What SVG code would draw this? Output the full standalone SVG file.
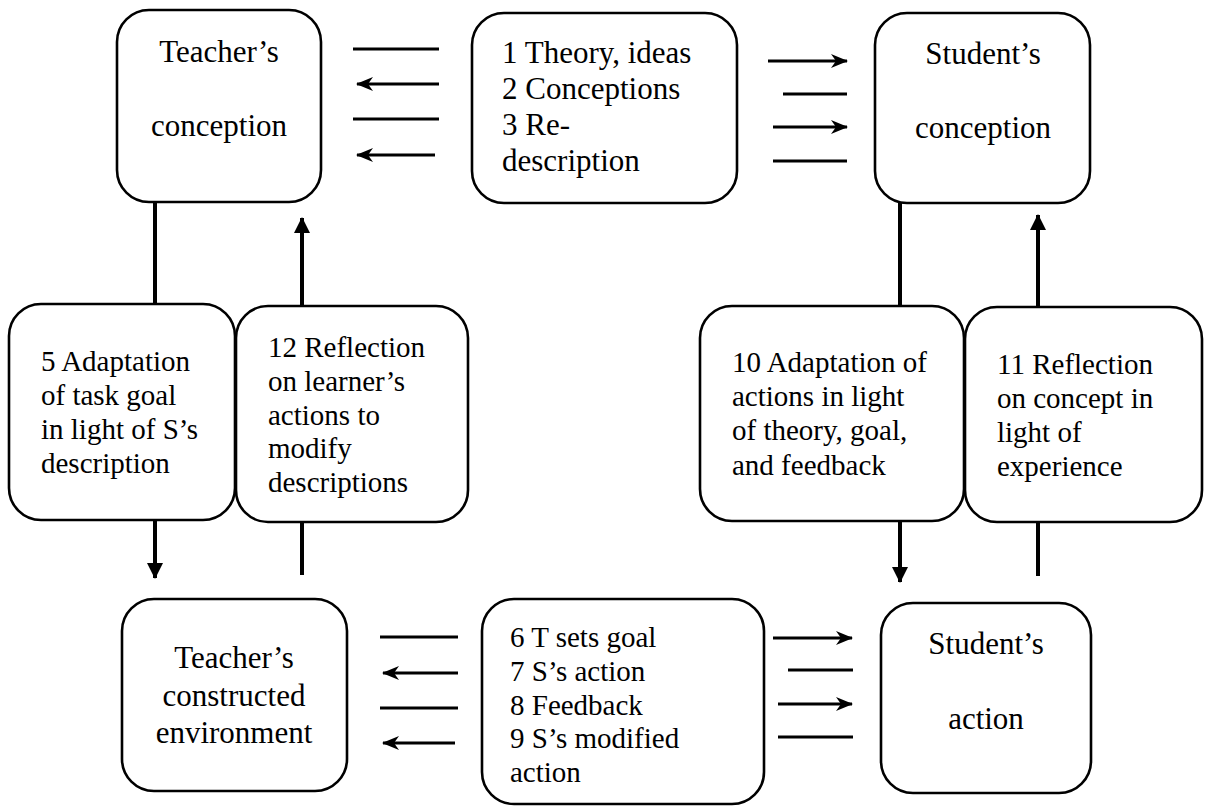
<svg xmlns="http://www.w3.org/2000/svg" width="1209" height="807" viewBox="0 0 1209 807">
<style>
.box{fill:#fff;stroke:#000;stroke-width:2.6}
text{fill:#000}
.big{font-size:31px}
.sm{font-size:29px}
.c{text-anchor:middle}
.h{stroke:#000;stroke-width:3;fill:none}
.v{stroke:#000;stroke-width:4;fill:none}
</style>
<defs>
<marker id="ah" markerUnits="userSpaceOnUse" viewBox="-18 -9 20 18" refX="0" refY="0" markerWidth="20" markerHeight="18" orient="auto">
<path d="M1,0 L-16,-7 L-11,0 L-16,7 Z" fill="#000"/>
</marker>
<marker id="av" markerUnits="userSpaceOnUse" viewBox="-18 -10 20 20" refX="0" refY="0" markerWidth="20" markerHeight="20" orient="auto">
<path d="M1,0 L-15,-8 L-15,8 Z" fill="#000"/>
</marker>
</defs>

<g id="connectors">
<line class="h" x1="353" y1="49" x2="439" y2="49"/>
<line class="h" x1="439" y1="84" x2="357" y2="84" marker-end="url(#ah)"/>
<line class="h" x1="353" y1="119" x2="439" y2="119"/>
<line class="h" x1="435" y1="155" x2="357" y2="155" marker-end="url(#ah)"/>

<line class="h" x1="768" y1="61" x2="847" y2="61" marker-end="url(#ah)"/>
<line class="h" x1="783" y1="94" x2="847" y2="94"/>
<line class="h" x1="773" y1="127" x2="847" y2="127" marker-end="url(#ah)"/>
<line class="h" x1="773" y1="161" x2="847" y2="161"/>

<line class="h" x1="380" y1="637" x2="458" y2="637"/>
<line class="h" x1="458" y1="673" x2="383" y2="673" marker-end="url(#ah)"/>
<line class="h" x1="380" y1="708" x2="458" y2="708"/>
<line class="h" x1="455" y1="743" x2="383" y2="743" marker-end="url(#ah)"/>

<line class="h" x1="773" y1="638" x2="852" y2="638" marker-end="url(#ah)"/>
<line class="h" x1="788" y1="670" x2="853" y2="670"/>
<line class="h" x1="778" y1="704" x2="852" y2="704" marker-end="url(#ah)"/>
<line class="h" x1="778" y1="737" x2="853" y2="737"/>

<line class="v" x1="155" y1="202" x2="155" y2="304"/>
<line class="v" x1="302" y1="307" x2="302" y2="218" marker-end="url(#av)"/>
<line class="v" x1="155" y1="520" x2="155" y2="578" marker-end="url(#av)"/>
<line class="v" x1="302" y1="522" x2="302" y2="575"/>

<line class="v" x1="900" y1="203" x2="900" y2="306"/>
<line class="v" x1="1038" y1="307" x2="1038" y2="215" marker-end="url(#av)"/>
<line class="v" x1="900" y1="521" x2="900" y2="582" marker-end="url(#av)"/>
<line class="v" x1="1038" y1="522" x2="1038" y2="576"/>
</g>

<g font-family="'Liberation Serif', 'Times New Roman', Tinos, 'DejaVu Serif', serif">
<g id="teacher-conception">
<rect class="box" x="117" y="10" width="204" height="192" rx="32"/>
<text class="big c" x="219" y="62">Teacher’s</text>
<text class="big c" x="219" y="136">conception</text>
</g>

<g id="theory">
<rect class="box" x="472" y="13" width="265" height="190" rx="32"/>
<text class="big" x="502" y="63">1 Theory, ideas</text>
<text class="big" x="502" y="99">2 Conceptions</text>
<text class="big" x="502" y="135">3 Re-</text>
<text class="big" x="502" y="171">description</text>
</g>

<g id="student-conception">
<rect class="box" x="875" y="13" width="215" height="190" rx="32"/>
<text class="big c" x="983" y="64">Student’s</text>
<text class="big c" x="983" y="138">conception</text>
</g>

<g id="adaptation-task">
<rect class="box" x="9" y="304" width="226" height="216" rx="32"/>
<text class="sm" x="41" y="371">5 Adaptation</text>
<text class="sm" x="41" y="405">of task goal</text>
<text class="sm" x="41" y="439">in light of S’s</text>
<text class="sm" x="41" y="473">description</text>
</g>

<g id="reflection-learner">
<rect class="box" x="236" y="306" width="232" height="216" rx="32"/>
<text class="sm" x="268" y="357">12 Reflection</text>
<text class="sm" x="268" y="391">on learner’s</text>
<text class="sm" x="268" y="425">actions to</text>
<text class="sm" x="268" y="458">modify</text>
<text class="sm" x="268" y="492">descriptions</text>
</g>

<g id="adaptation-actions">
<rect class="box" x="700" y="306" width="264" height="215" rx="32"/>
<text class="sm" x="732" y="372">10 Adaptation of</text>
<text class="sm" x="732" y="406">actions in light</text>
<text class="sm" x="732" y="440">of theory, goal,</text>
<text class="sm" x="732" y="475">and feedback</text>
</g>

<g id="reflection-concept">
<rect class="box" x="965" y="307" width="237" height="215" rx="32"/>
<text class="sm" x="997" y="374">11 Reflection</text>
<text class="sm" x="997" y="408">on concept in</text>
<text class="sm" x="997" y="442">light of</text>
<text class="sm" x="997" y="476">experience</text>
</g>

<g id="teacher-environment">
<rect class="box" x="122" y="599" width="225" height="192" rx="32"/>
<text class="big c" x="234" y="668">Teacher’s</text>
<text class="big c" x="234" y="706">constructed</text>
<text class="big c" x="234" y="743">environment</text>
</g>

<g id="goal-feedback">
<rect class="box" x="482" y="599" width="282" height="205" rx="32"/>
<text class="sm" x="510" y="647">6 T sets goal</text>
<text class="sm" x="510" y="681">7 S’s action</text>
<text class="sm" x="510" y="715">8 Feedback</text>
<text class="sm" x="510" y="748">9 S’s modified</text>
<text class="sm" x="510" y="782">action</text>
</g>

<g id="student-action">
<rect class="box" x="881" y="603" width="210" height="190" rx="32"/>
<text class="big c" x="986" y="654">Student’s</text>
<text class="big c" x="986" y="729">action</text>
</g>
</g>
</svg>
